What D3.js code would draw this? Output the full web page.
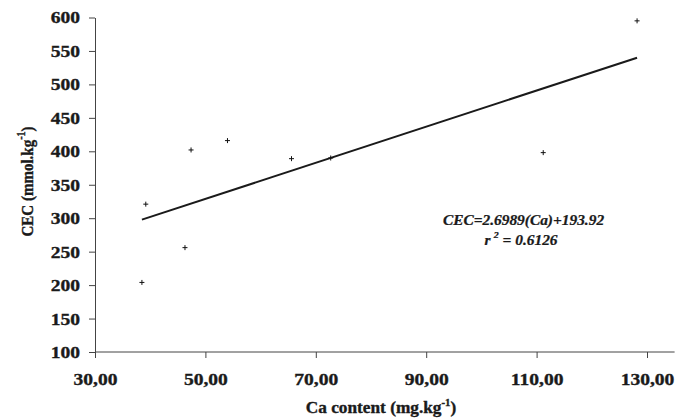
<!DOCTYPE html>
<html>
<head>
<meta charset="utf-8">
<script src="https://cdn.jsdelivr.net/npm/d3@7"></script>
<style>
  html, body { margin: 0; padding: 0; background: #fff; }
  svg { display: block; }
  .tick text, .title { font-family: "Liberation Serif", "Times New Roman", serif; font-weight: bold; fill: #1a1a1a; stroke: #1a1a1a; stroke-width: 0.35px; }
  .eq { font-family: "Liberation Serif", "Times New Roman", serif; font-weight: bold; font-style: italic; fill: #1a1a1a; stroke: #1a1a1a; stroke-width: 0.25px; }
</style>
</head>
<body>
<script>
// Calcium content (mg/kg) and cation exchange capacity (mmol/kg) per sample
const caContent = [38.5, 39.2, 46.3, 47.4, 54.0, 65.6, 72.7, 111.2, 128.2];
const cecValues = [204, 321, 256, 402, 416, 389, 390, 398, 595];

// Linear fit reported for the samples
const fitSlope = 2.6989;
const fitIntercept = 193.92;
const fitR2 = 0.6126;

const xTicks = [30, 50, 70, 90, 110, 130];
const yTicks = [100, 150, 200, 250, 300, 350, 400, 450, 500, 550, 600];

const W = 688, H = 418;
const svg = d3.select("body").append("svg").attr("width", W).attr("height", H);

const x = d3.scaleLinear().domain([30, 130]).range([95, 647]);
const y = d3.scaleLinear().domain([100, 600]).range([352, 17.5]);
const xEnd = 135;

// Text is set slightly wide
const sx = 1.15;

const fmtX = v => d3.format(".2f")(v).replace(".", ",");
const axisColor = "#444";

// Y axis
const gy = svg.append("g").attr("transform", `translate(${x(30)},0)`)
  .call(d3.axisLeft(y).tickValues(yTicks).tickSize(6).tickPadding(7).tickSizeOuter(0));
gy.select(".domain").attr("stroke", axisColor);
gy.selectAll(".tick line").attr("stroke", axisColor);
gy.selectAll(".tick text").attr("font-size", 17).attr("transform", `scale(${sx},1)`);

// X axis
const gx = svg.append("g").attr("transform", `translate(0,${y(100)})`)
  .call(d3.axisBottom(x).tickValues(xTicks).tickFormat(fmtX).tickSize(6).tickPadding(15).tickSizeOuter(0));
gx.select(".domain").attr("d", `M${x(30)},0H${x(xEnd)}`).attr("stroke", axisColor);
gx.selectAll(".tick line").attr("stroke", axisColor);
gx.selectAll(".tick text").attr("font-size", 17).attr("transform", `scale(${sx},1)`);

// Axis titles
const xt = svg.append("text").attr("class", "title")
  .attr("transform", `translate(381,413) scale(1.08,1)`).attr("text-anchor", "middle").attr("font-size", 16);
xt.append("tspan").text("Ca content (mg.kg");
xt.append("tspan").attr("font-size", 10).attr("dy", -7).text("-1");
xt.append("tspan").attr("dy", 7).text(")");

const yt = svg.append("text").attr("class", "title")
  .attr("transform", `translate(33,181.5) scale(${sx},1) rotate(-90)`).attr("text-anchor", "middle").attr("font-size", 15);
yt.append("tspan").text("CEC (mmol.kg");
yt.append("tspan").attr("font-size", 10).attr("dy", -7).text("-1");
yt.append("tspan").attr("dy", 7).text(")");

// Regression line over the observed range
const x0 = d3.min(caContent), x1 = d3.max(caContent);
const line = d3.line().x(d => x(d)).y(d => y(fitSlope * d + fitIntercept));
svg.append("path").datum([x0, x1]).attr("d", line)
  .attr("fill", "none").attr("stroke", "#1a1a1a").attr("stroke-width", 2);

// Sample points as small crosses
const pts = svg.append("g").selectAll("g").data(caContent.map((c, i) => [c, cecValues[i]]))
  .join("g").attr("transform", d => `translate(${x(d[0])},${y(d[1])})`);
pts.append("path").attr("d", "M-2.5,0H2.5M0,-2.5V2.5").attr("stroke", "#111").attr("stroke-width", 1);

// Fit equation
const eq = svg.append("text").attr("class", "eq").attr("text-anchor", "middle").attr("font-size", 14)
  .attr("transform", `translate(523.5,225) scale(1.1,1)`);
eq.append("tspan").text(`CEC=${fitSlope}(Ca)+${fitIntercept}`);
const r2 = svg.append("text").attr("class", "eq").attr("text-anchor", "middle").attr("font-size", 14)
  .attr("transform", `translate(521,245) scale(1.1,1)`);
r2.append("tspan").text("r");
r2.append("tspan").attr("font-size", 9).attr("dy", -7).attr("dx", 3).text("2");
r2.append("tspan").attr("dy", 7).text(`  = ${fitR2}`);
</script>
</body>
</html>
